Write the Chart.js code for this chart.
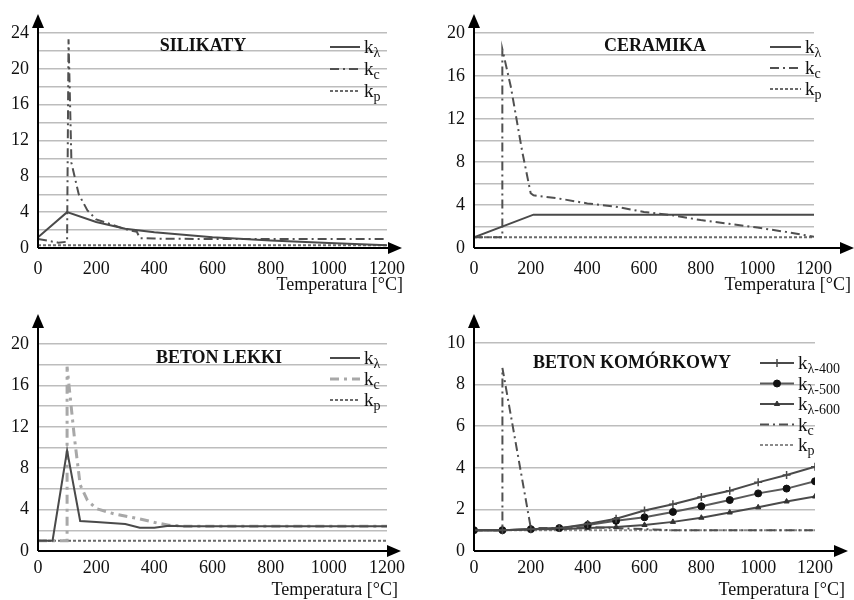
<!DOCTYPE html>
<html><head><meta charset="utf-8">
<script src="https://cdn.jsdelivr.net/npm/chart.js@4"></script>
<style>
body{margin:0;background:#fff;}
#wrap{position:relative;width:854px;height:600px;overflow:hidden;}
canvas{position:absolute;}
</style></head><body>
<div id="wrap">
<canvas id="c1" width="427" height="300" style="left:0;top:0"></canvas>
<canvas id="c2" width="427" height="300" style="left:427px;top:0"></canvas>
<canvas id="c3" width="427" height="300" style="left:0;top:300px"></canvas>
<canvas id="c4" width="427" height="300" style="left:427px;top:300px"></canvas>
</div>
<script>
// ---------- DATA ----------
const xTickStep = 200;
const xMax = 1200;

// SILIKATY
const silTitle = 'SILIKATY';
const sil_kl_T = [0, 100, 200, 300, 400, 600, 800, 1000, 1200];
const sil_kl   = [1.2, 4.0, 2.9, 2.15, 1.75, 1.2, 0.85, 0.55, 0.3];
const sil_kc_T = [0, 70, 100, 105, 115, 140, 170, 200, 300, 340, 350, 400, 600, 800, 1000, 1200];
const sil_kc   = [1.0, 0.6, 0.7, 23.3, 9.5, 6.0, 4.2, 3.2, 2.1, 1.8, 1.1, 1.05, 1.0, 1.0, 1.0, 1.0];
const sil_kp_T = [0, 1200];
const sil_kp   = [0.3, 0.3];

// CERAMIKA
const cerTitle = 'CERAMIKA';
const cer_kl_T = [0, 210, 1200];
const cer_kl   = [1.0, 3.1, 3.1];
const cer_kc_T = [0, 100, 100, 130, 170, 200, 210, 300, 400, 500, 600, 700, 800, 900, 1000, 1100, 1200];
const cer_kc   = [1.0, 1.0, 18.5, 15.0, 9.0, 5.1, 4.9, 4.6, 4.15, 3.85, 3.35, 3.05, 2.6, 2.25, 1.9, 1.5, 1.05];
const cer_kp_T = [0, 1200];
const cer_kp   = [1.0, 1.0];

// BETON LEKKI
const blTitle = 'BETON LEKKI';
const bl_kl_T = [0, 50, 100, 145, 200, 300, 350, 400, 450, 500, 1200];
const bl_kl   = [1.0, 1.0, 9.7, 2.9, 2.8, 2.6, 2.25, 2.25, 2.45, 2.4, 2.4];
const bl_kc_T = [0, 100, 100, 125, 145, 170, 200, 260, 350, 410, 450, 500, 1200];
const bl_kc   = [1.0, 1.0, 17.8, 11.0, 6.4, 4.9, 4.1, 3.6, 3.1, 2.7, 2.5, 2.4, 2.4];
const bl_kp_T = [0, 1200];
const bl_kp   = [1.0, 1.0];

// BETON KOMÓRKOWY
const bkTitle = 'BETON KOMÓRKOWY';
const bk_T    = [0, 100, 200, 300, 400, 500, 600, 700, 800, 900, 1000, 1100, 1200];
const bk_k400 = [1.0, 1.0, 1.05, 1.1, 1.3, 1.55, 1.95, 2.25, 2.6, 2.9, 3.3, 3.65, 4.05];
const bk_k500 = [1.0, 1.0, 1.05, 1.1, 1.25, 1.45, 1.62, 1.88, 2.15, 2.45, 2.77, 3.0, 3.35];
const bk_k600 = [1.0, 1.0, 1.05, 1.05, 1.1, 1.15, 1.25, 1.4, 1.6, 1.85, 2.1, 2.38, 2.62];
const bk_kc_T = [0, 100, 100, 200, 300, 400, 500, 600, 700, 800, 900, 1000, 1100, 1200];
const bk_kc   = [1.0, 1.0, 8.8, 1.1, 1.1, 1.15, 1.1, 1.05, 1.0, 1.0, 1.0, 1.0, 1.0, 1.0];
const bk_kp_T = [0, 1200];
const bk_kp   = [1.0, 1.0];

const xLabel = 'Temperatura [°C]';

// ---------- HELPERS ----------
const FONT = "'Liberation Serif', 'Times New Roman', serif";
Chart.defaults.font.family = FONT;
Chart.defaults.color = '#111';

function pts(xs, ys){ return xs.map((x,i)=>({x:x, y:ys[i]})); }

function ds(sub, xs, ys, style){
  return Object.assign({
    sub: sub,
    data: pts(xs, ys),
    borderColor: '#444',
    backgroundColor: '#444',
    borderWidth: 2,
    pointRadius: 0,
    tension: 0,
    fill: false
  }, style);
}
const SOLID = {borderColor:'#4a4a4a', borderWidth:2};
const DASHDOT = {borderColor:'#505050', borderWidth:2, borderDash:[9,4,2,4]};
const DOTTED = {borderColor:'#6a6a6a', borderWidth:2, borderDash:[3,2]};

const deco = {
  id:'deco',
  afterDraw(chart, args, o){
    const ctx = chart.ctx, a = chart.chartArea;
    ctx.save();
    // legend
    chart.data.datasets.forEach((d,i)=>{
      const y = o.legY + i*o.legStep;
      ctx.save();
      ctx.strokeStyle = d.borderColor; ctx.lineWidth = d.borderWidth;
      ctx.setLineDash(d.borderDash || []);
      ctx.beginPath(); ctx.moveTo(o.legX0, y); ctx.lineTo(o.legX1, y); ctx.stroke();
      ctx.setLineDash([]);
      if (d.pointRadius > 0){
        ctx.fillStyle = d.pointBackgroundColor || d.borderColor;
        ctx.strokeStyle = d.pointBorderColor || d.borderColor;
        ctx.lineWidth = d.pointBorderWidth || 1;
        Chart.helpers.drawPoint(ctx, {pointStyle:d.pointStyle, radius:d.pointRadius, rotation:0, borderWidth:ctx.lineWidth}, (o.legX0+o.legX1)/2, y);
      }
      ctx.restore();
      ctx.fillStyle = '#111';
      ctx.textAlign = 'left'; ctx.textBaseline = 'alphabetic';
      ctx.font = '19px ' + FONT;
      const tx = o.legX1 + 4;
      ctx.fillText('k', tx, y + 6);
      const w = ctx.measureText('k').width;
      ctx.font = '14px ' + FONT;
      ctx.fillText(d.sub, tx + w, y + 10);
    });
    // title
    ctx.font = 'bold 18px ' + FONT;
    ctx.textAlign = 'center'; ctx.textBaseline = 'middle'; ctx.fillStyle = '#111';
    ctx.fillText(o.title, o.titleX, o.titleY);
    // x label
    ctx.font = '18px ' + FONT; ctx.textAlign = 'right';
    ctx.fillText(xLabel, o.xlabRight, o.xlabY);
    // axes with arrows
    ctx.strokeStyle = '#000'; ctx.lineWidth = 2; ctx.fillStyle = '#000';
    ctx.beginPath(); ctx.moveTo(a.left, a.bottom); ctx.lineTo(a.left, o.arrowTop + 10); ctx.stroke();
    ctx.beginPath(); ctx.moveTo(a.left, a.bottom); ctx.lineTo(o.arrowRight - 10, a.bottom); ctx.stroke();
    ctx.beginPath(); ctx.moveTo(a.left, o.arrowTop); ctx.lineTo(a.left - 6, o.arrowTop + 14); ctx.lineTo(a.left + 6, o.arrowTop + 14); ctx.closePath(); ctx.fill();
    ctx.beginPath(); ctx.moveTo(o.arrowRight, a.bottom); ctx.lineTo(o.arrowRight - 14, a.bottom - 6); ctx.lineTo(o.arrowRight - 14, a.bottom + 6); ctx.closePath(); ctx.fill();
    ctx.restore();
  }
};

function makeChart(id, datasets, cfg){
  return new Chart(document.getElementById(id), {
    type: 'line',
    data: { datasets: datasets },
    plugins: [deco],
    options: {
      responsive: false,
      animation: false,
      events: [],
      layout: { padding: { top: cfg.top, right: cfg.right, left: 0, bottom: 0 } },
      plugins: {
        legend: { display: false },
        tooltip: { enabled: false },
        deco: cfg.deco
      },
      scales: {
        x: {
          type: 'linear', min: 0, max: xMax,
          afterFit: s => { s.height = cfg.xh; },
          grid: { display: false },
          border: { display: false },
          ticks: { stepSize: xTickStep, font: { size: 18 }, color: '#111', padding: cfg.xpad, maxRotation: 0, autoSkip: false,
                   callback: v => String(v) }
        },
        y: {
          min: 0, max: cfg.ymax,
          afterFit: s => { s.width = cfg.yw; },
          grid: { color: '#bdbdbd', lineWidth: 1.5, drawTicks: false },
          border: { display: false },
          ticks: {
            stepSize: 2, autoSkip: false, font: { size: 18 }, color: '#111', padding: 9,
            callback: v => (v % cfg.labStep === 0 ? String(v) : '')
          }
        }
      }
    }
  });
}

makeChart('c1', [
  ds('λ', sil_kl_T, sil_kl, SOLID),
  ds('c', sil_kc_T, sil_kc, DASHDOT),
  ds('p', sil_kp_T, sil_kp, DOTTED)
], { top: 33, right: 40, yw: 38, xh: 52, xpad: 2, ymax: 24, labStep: 4,
     deco: { title: silTitle, titleX: 203, titleY: 46, legX0: 330, legX1: 360, legY: 47, legStep: 22,
             xlabRight: 403, xlabY: 285, arrowTop: 14, arrowRight: 402 } });

makeChart('c2', [
  ds('λ', cer_kl_T, cer_kl, SOLID),
  ds('c', cer_kc_T, cer_kc, DASHDOT),
  ds('p', cer_kp_T, cer_kp, DOTTED)
], { top: 33, right: 40, yw: 47, xh: 52, xpad: 2, ymax: 20, labStep: 4,
     deco: { title: cerTitle, titleX: 228, titleY: 46, legX0: 343, legX1: 374, legY: 47, legStep: 21,
             xlabRight: 424, xlabY: 285, arrowTop: 14, arrowRight: 427 } });

makeChart('c3', [
  ds('λ', bl_kl_T, bl_kl, SOLID),
  ds('c', bl_kc_T, bl_kc, {borderColor:'#a8a8a8', borderWidth:3, borderDash:[9,5,3,5]}),
  ds('p', bl_kp_T, bl_kp, DOTTED)
], { top: 44, right: 40, yw: 38, xh: 49, xpad: -2, ymax: 20, labStep: 4,
     deco: { title: blTitle, titleX: 219, titleY: 58, legX0: 330, legX1: 360, legY: 58, legStep: 21,
             xlabRight: 398, xlabY: 290, arrowTop: 14, arrowRight: 401 } });

makeChart('c4', [
  ds('λ-400', bk_T, bk_k400, {borderColor:'#4a4a4a', borderWidth:2, pointRadius:4, pointStyle:'cross', pointBorderWidth:1.5}),
  ds('λ-500', bk_T, bk_k500, {borderColor:'#5a5a5a', borderWidth:2, pointRadius:3.5, pointStyle:'circle', pointBorderWidth:1, pointBackgroundColor:'#111', pointBorderColor:'#111'}),
  ds('λ-600', bk_T, bk_k600, {borderColor:'#4a4a4a', borderWidth:2, pointRadius:3, pointStyle:'triangle', pointBorderWidth:1, pointBackgroundColor:'#333', pointBorderColor:'#333'}),
  ds('c', bk_kc_T, bk_kc, DASHDOT),
  ds('p', bk_kp_T, bk_kp, {borderColor:'#8a8a8a', borderWidth:2, borderDash:[3,2]})
], { top: 43, right: 39, yw: 47, xh: 49, xpad: -2, ymax: 10, labStep: 2,
     deco: { title: bkTitle, titleX: 205, titleY: 63, legX0: 333, legX1: 367, legY: 63, legStep: 20.5,
             xlabRight: 418, xlabY: 290, arrowTop: 14, arrowRight: 421 } });
</script>
</body></html>
